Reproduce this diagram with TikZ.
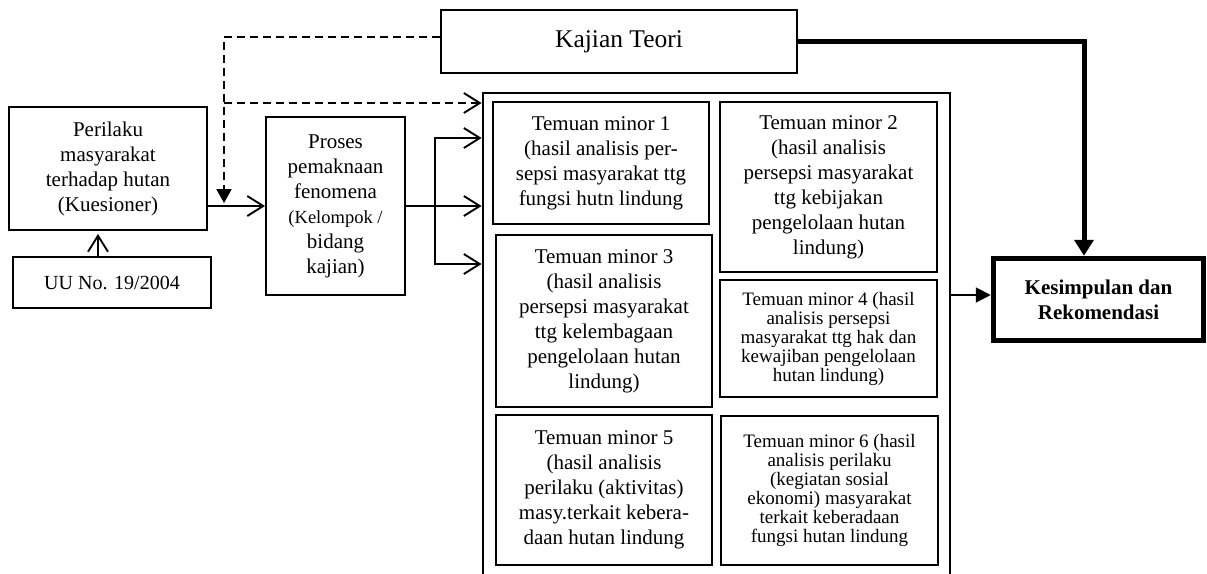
\documentclass[tikz,border=0pt]{standalone}
\usepackage{fontspec}
\setmainfont{Liberation Serif}
\usetikzlibrary{arrows.meta,calc}
\begin{document}
\begin{tikzpicture}[x=1pt,y=-1pt,
  box/.style={draw, line width=1.9pt, inner sep=0pt, align=center, font=\fontsize{21}{25}\selectfont},
  smallbox/.style={box, font=\fontsize{19}{19}\selectfont},
  conn/.style={line width=1.9pt},
  openarrow/.style={conn, -{Straight Barb[length=16pt,width=20pt,line width=1.9pt]}},
  fillarrow/.style={conn, -{Triangle[length=15pt,width=15pt]}},
  dashline/.style={line width=1.9pt, dash pattern=on 8pt off 5pt},
  thickline/.style={line width=5pt, -{Triangle[length=16pt,width=19pt]}}
]
\useasboundingbox (0,0) rectangle (1207,573);

% nodes
\node[box, minimum width=356pt, minimum height=63pt, font=\fontsize{25.5}{30}\selectfont] (kajian) at (619,41.5) {Kajian Teori};
\node[box, minimum width=198pt, minimum height=123pt] (perilaku) at (108,168.5) {Perilaku\\masyarakat\\terhadap hutan\\(Kuesioner)};
\node[box, minimum width=198pt, minimum height=51pt, font=\fontsize{20}{24}\selectfont] (uu) at (112,282.5) {UU No. 19/2004};
\node[box, minimum width=139pt, minimum height=178pt] (proses) at (335.5,206) {Proses\\pemaknaan\\fenomena\\{\fontsize{18.5}{25}\selectfont (Kelompok /}\\bidang\\kajian)};

\node[draw, line width=2.8pt, inner sep=0pt, minimum width=467pt, minimum height=507pt] (temuan) at (716.5,346.5) {};

\node[box, minimum width=216pt, minimum height=122pt] (m1) at (601,163) {Temuan minor 1\\(hasil analisis per-\\sepsi masyarakat ttg\\fungsi hutn lindung};
\node[box, minimum width=217pt, minimum height=170pt] (m2) at (828.5,187) {Temuan minor 2\\(hasil analisis\\persepsi masyarakat\\ttg kebijakan\\pengelolaan hutan\\lindung)};
\node[box, minimum width=216pt, minimum height=172pt] (m3) at (604,321) {Temuan minor 3\\(hasil analisis\\persepsi masyarakat\\ttg kelembagaan\\pengelolaan hutan\\lindung)};
\node[smallbox, minimum width=217pt, minimum height=117pt] (m4) at (828.5,338.5) {Temuan minor 4 (hasil\\analisis persepsi\\masyarakat ttg hak dan\\kewajiban pengelolaan\\hutan lindung)};
\node[box, minimum width=216pt, minimum height=150pt] (m5) at (604,490) {Temuan minor 5\\(hasil analisis\\perilaku (aktivitas)\\masy.terkait kebera-\\daan hutan lindung};
\node[smallbox, minimum width=217pt, minimum height=149pt] (m6) at (829.5,490.5) {Temuan minor 6 (hasil\\analisis perilaku\\(kegiatan sosial\\ekonomi) masyarakat\\terkait keberadaan\\fungsi hutan lindung};

\node[draw, line width=5.5pt, inner sep=0pt, align=center, minimum width=210pt, minimum height=82pt, font=\fontsize{21}{25}\selectfont\bfseries] (kes) at (1098.5,299.5) {Kesimpulan dan\\Rekomendasi};

% coordinates
\coordinate (ymid) at (0,206);
\coordinate (y1) at (0,138);
\coordinate (y3) at (0,264);
\coordinate (ykes) at (0,295);
\coordinate (ydash) at (0,37);
\coordinate (br) at (435,206);
\coordinate (dend) at (224,203);
\coordinate (dj) at (224,103);
\coordinate (xuu) at (98,0);
\coordinate (xkes) at (1084,0);

% connectors
\draw[dashline, -{Triangle[length=14pt,width=15pt]}] (kajian.west |- ydash) -| (dend);
\draw[dashline, -{Straight Barb[length=16pt,width=20pt,line width=1.9pt]}] (dj) -- (temuan.west |- dj);
\draw[openarrow, shorten >=3pt] (uu.north -| xuu) -- (perilaku.south -| xuu);
\draw[openarrow] (perilaku.east |- ymid) -- (proses.west |- ymid);
\draw[conn] (proses.east |- ymid) -- (br);
\draw[openarrow] (br) |- (temuan.west |- y1);
\draw[openarrow] (br) -- (temuan.west |- ymid);
\draw[openarrow] (br) |- (temuan.west |- y3);
\draw[fillarrow] (temuan.east |- ykes) -- (kes.west |- ykes);
\draw[thickline] (kajian.east) -| (kes.north -| xkes);
\end{tikzpicture}
\end{document}
